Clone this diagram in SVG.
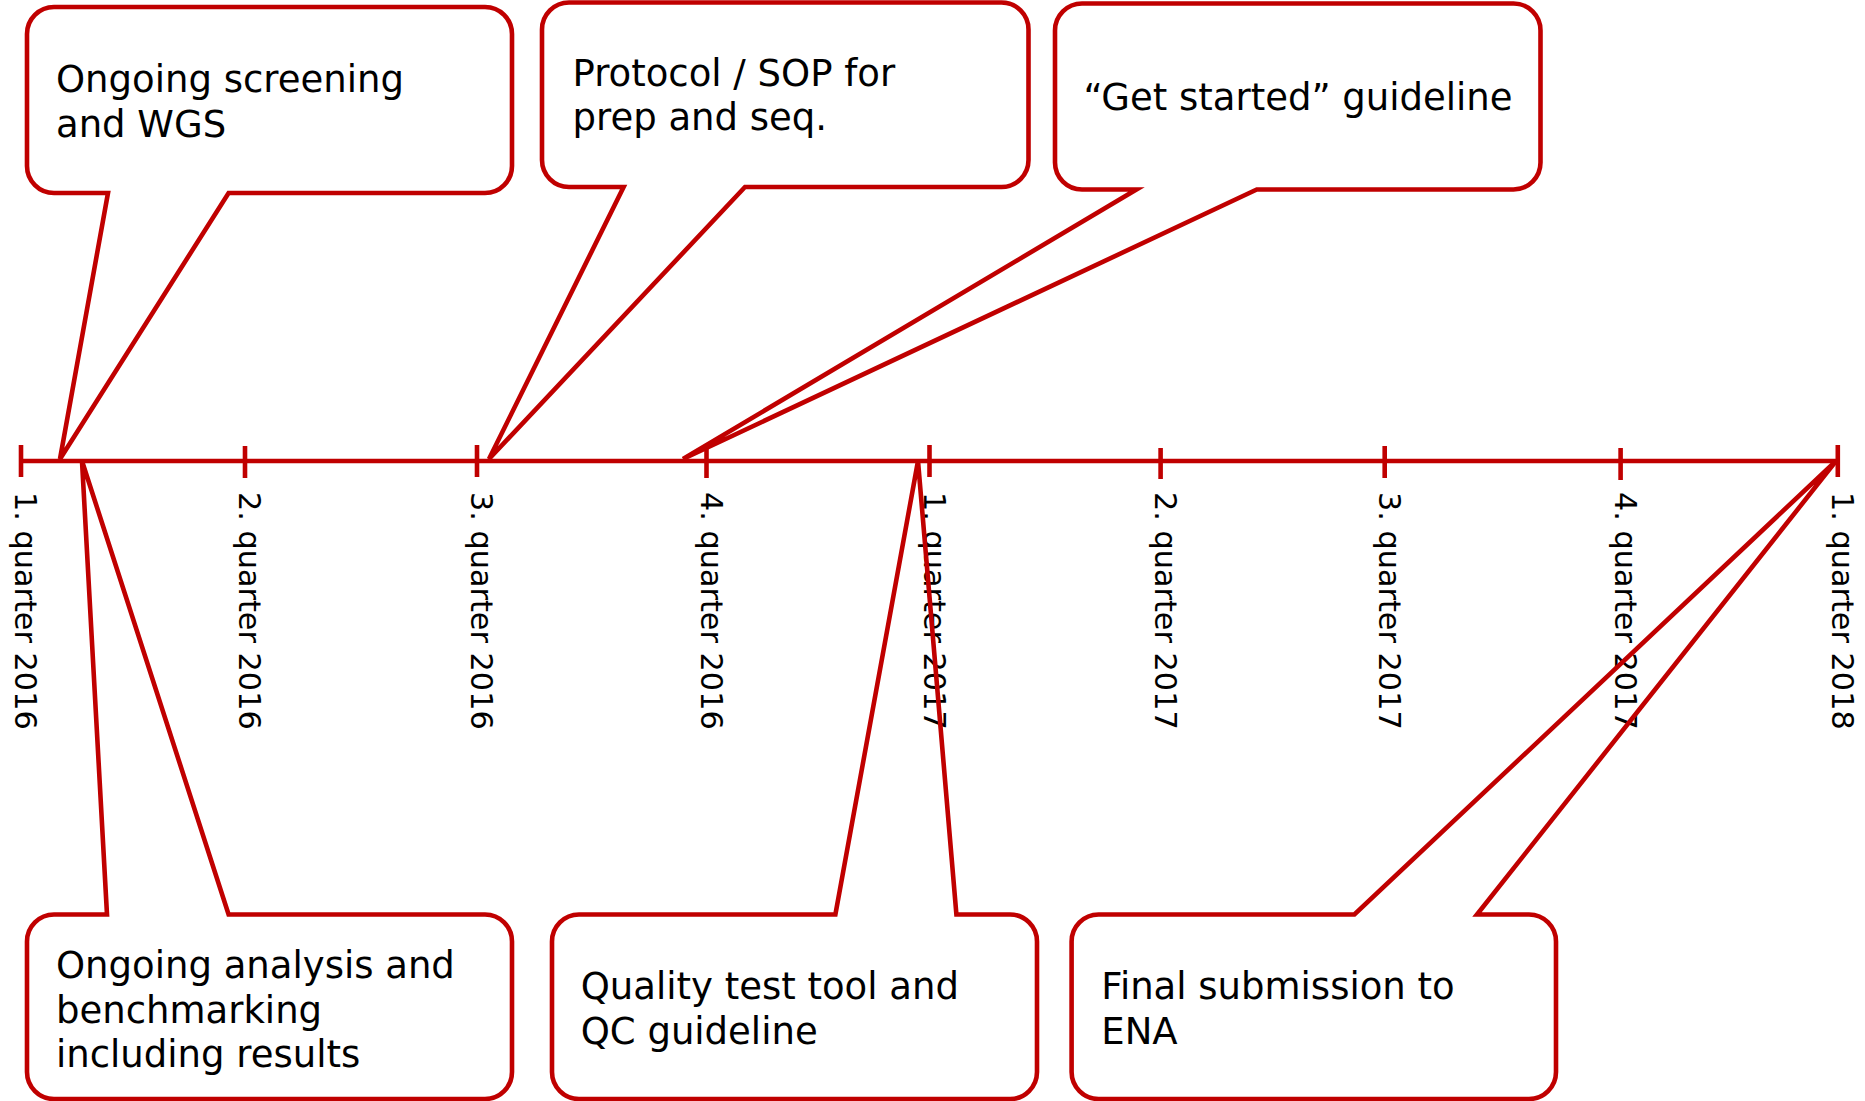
<svg xmlns="http://www.w3.org/2000/svg" width="1865" height="1101" viewBox="0 0 1865 1101">
<style>
.bg{fill:#ffffff}
.axis{stroke:#C00000;stroke-width:4.6;fill:none}
.tick{stroke:#C00000;stroke-width:4.6}
.call{stroke:#C00000;stroke-width:4.6;fill:none;stroke-linejoin:miter}
.txt{font-family:"DejaVu Sans","Noto Sans",sans-serif;font-size:37px;fill:#000}
.lbl{font-family:"DejaVu Sans","Noto Sans",sans-serif;font-size:30.3px;fill:#000}
</style>
<rect class="bg" x="0" y="0" width="1865" height="1101"/>
<g id="timeline">
<line class="axis" x1="21" y1="461" x2="1838" y2="461"/>
<line class="tick" x1="21" y1="445" x2="21" y2="477"/>
<line class="tick" x1="245" y1="446" x2="245" y2="478"/>
<line class="tick" x1="477" y1="445" x2="477" y2="477"/>
<line class="tick" x1="706.5" y1="448" x2="706.5" y2="478"/>
<line class="tick" x1="929.5" y1="445" x2="929.5" y2="477"/>
<line class="tick" x1="1160.6" y1="448" x2="1160.6" y2="479"/>
<line class="tick" x1="1384.7" y1="446" x2="1384.7" y2="478"/>
<line class="tick" x1="1620.6" y1="448" x2="1620.6" y2="480"/>
<line class="tick" x1="1837.8" y1="445" x2="1837.8" y2="477"/>
</g>
<g id="labels">
<text class="lbl" transform="translate(15,492) rotate(90)">1. quarter 2016</text>
<text class="lbl" transform="translate(239,492) rotate(90)">2. quarter 2016</text>
<text class="lbl" transform="translate(471,492) rotate(90)">3. quarter 2016</text>
<text class="lbl" transform="translate(700.5,492) rotate(90)">4. quarter 2016</text>
<text class="lbl" transform="translate(923.5,492) rotate(90)">1. quarter 2017</text>
<text class="lbl" transform="translate(1154.6,492) rotate(90)">2. quarter 2017</text>
<text class="lbl" transform="translate(1378.7,492) rotate(90)">3. quarter 2017</text>
<text class="lbl" transform="translate(1614.6,492) rotate(90)">4. quarter 2017</text>
<text class="lbl" transform="translate(1831.8,492) rotate(90)">1. quarter 2018</text>
</g>
<g id="connectors"></g>
<g id="callout1">
<path class="call" d="M54,7 H485 A27,27 0 0 1 512,34 V166 A27,27 0 0 1 485,193 H228.6 L60,459 L108,193 H54 A27,27 0 0 1 27,166 V34 A27,27 0 0 1 54,7 Z"/>
<text class="txt"><tspan x="56" y="92.3">Ongoing screening</tspan><tspan x="56" y="136.7">and WGS</tspan></text>
</g>
<g id="callout2">
<path class="call" d="M569,2.5 H1001.5 A27,27 0 0 1 1028.5,29.5 V160 A27,27 0 0 1 1001.5,187 H745 L489,459 L623.6,187 H569 A27,27 0 0 1 542,160 V29.5 A27,27 0 0 1 569,2.5 Z"/>
<text class="txt"><tspan x="572.5" y="86">Protocol / SOP for</tspan><tspan x="572.5" y="130">prep and seq.</tspan></text>
</g>
<g id="callout3">
<path class="call" d="M1082,3.5 H1513.5 A27,27 0 0 1 1540.5,30.5 V162.5 A27,27 0 0 1 1513.5,189.5 H1256.8 L683,459 L1136.4,189.5 H1082 A27,27 0 0 1 1055,162.5 V30.5 A27,27 0 0 1 1082,3.5 Z"/>
<text class="txt" x="1298" y="110" text-anchor="middle">“Get started” guideline</text>
</g>
<g id="callout4">
<path class="call" d="M54,914.5 H107 L82,461 L228.6,914.5 H485 A27,27 0 0 1 512,941.5 V1072 A27,27 0 0 1 485,1099 H54 A27,27 0 0 1 27,1072 V941.5 A27,27 0 0 1 54,914.5 Z"/>
<text class="txt"><tspan x="56" y="978.3">Ongoing analysis and</tspan><tspan x="56" y="1022.8">benchmarking</tspan><tspan x="56" y="1067">including results</tspan></text>
</g>
<g id="callout5">
<path class="call" d="M579,914.5 H835.4 L918,461 L956.4,914.5 H1010 A27,27 0 0 1 1037,941.5 V1072 A27,27 0 0 1 1010,1099 H579 A27,27 0 0 1 552,1072 V941.5 A27,27 0 0 1 579,914.5 Z"/>
<text class="txt"><tspan x="580.7" y="999.3">Quality test tool and</tspan><tspan x="580.7" y="1044.3">QC guideline</tspan></text>
</g>
<g id="callout6">
<path class="call" d="M1098.6,914.5 H1354.4 L1836,461 L1477,914.5 H1529 A27,27 0 0 1 1556,941.5 V1072 A27,27 0 0 1 1529,1099 H1098.6 A27,27 0 0 1 1071.6,1072 V941.5 A27,27 0 0 1 1098.6,914.5 Z"/>
<text class="txt"><tspan x="1101.3" y="999.3">Final submission to</tspan><tspan x="1101.3" y="1044.3">ENA</tspan></text>
</g>
</svg>
